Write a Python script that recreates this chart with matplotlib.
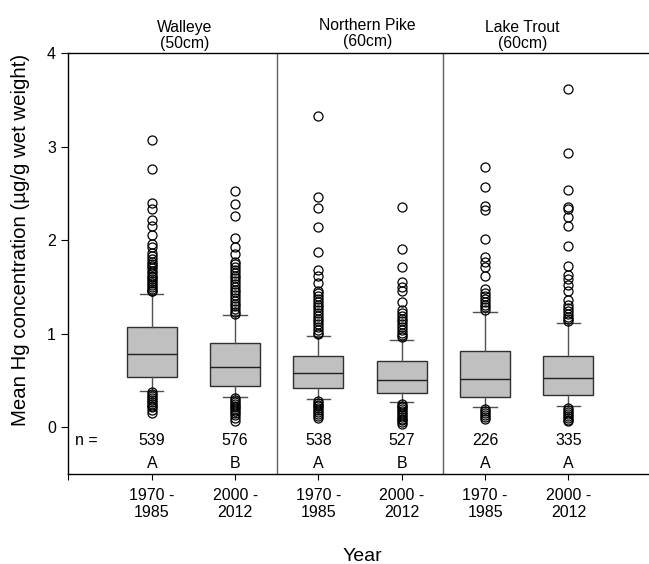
import matplotlib
matplotlib.use("Agg")
import matplotlib.pyplot as plt

plt.rcParams['font.family'] = ['Liberation Sans', 'DejaVu Sans']

# Groups and periods
species = ["Walleye\n(50cm)", "Northern Pike\n(60cm)", "Lake Trout\n(60cm)"]
periods = ["1970 -\n1985", "2000 -\n2012", "1970 -\n1985", "2000 -\n2012", "1970 -\n1985", "2000 -\n2012"]
n_counts = [539, 576, 538, 527, 226, 335]
letters = ["A", "B", "A", "B", "A", "A"]

# Box statistics (ug/g wet weight)
q1 = [0.54, 0.44, 0.42, 0.36, 0.32, 0.34]
median = [0.78, 0.645, 0.58, 0.50, 0.51, 0.52]
q3 = [1.07, 0.90, 0.76, 0.71, 0.81, 0.76]
whisker_low = [0.385, 0.325, 0.295, 0.27, 0.21, 0.22]
whisker_high = [1.42, 1.20, 0.97, 0.93, 1.23, 1.11]

# Outlying observations
fliers_walleye_1970 = [3.07, 2.76, 2.40, 2.33, 2.21, 2.15, 2.05, 1.96, 1.92, 1.86, 1.83, 1.80,
                       1.77, 1.74, 1.72, 1.70, 1.67, 1.65, 1.62, 1.60, 1.58, 1.56, 1.54, 1.52,
                       1.50, 1.48, 1.46, 1.45,
                       0.37, 0.35, 0.33, 0.31, 0.29, 0.27, 0.25, 0.23, 0.21, 0.18, 0.15]
fliers_walleye_2000 = [2.52, 2.38, 2.26, 2.02, 1.93, 1.85, 1.77, 1.74, 1.71, 1.68, 1.65, 1.62,
                       1.59, 1.56, 1.53, 1.50, 1.47, 1.44, 1.41, 1.38, 1.35, 1.32, 1.29, 1.26,
                       1.23, 1.21,
                       0.31, 0.29, 0.27, 0.25, 0.23, 0.21, 0.19, 0.17, 0.15, 0.13, 0.10, 0.06]
fliers_pike_1970 = [3.33, 2.46, 2.34, 2.14, 1.87, 1.68, 1.61, 1.54, 1.45, 1.43, 1.40, 1.37,
                    1.34, 1.31, 1.28, 1.25, 1.22, 1.19, 1.16, 1.13, 1.10, 1.07, 1.04, 1.01, 0.99,
                    0.28, 0.26, 0.24, 0.22, 0.20, 0.18, 0.16, 0.14, 0.12, 0.10]
fliers_pike_2000 = [2.35, 1.90, 1.71, 1.55, 1.50, 1.45, 1.34, 1.25, 1.22, 1.19, 1.16, 1.13,
                    1.10, 1.07, 1.04, 1.01, 0.98, 0.96,
                    0.25, 0.23, 0.21, 0.19, 0.17, 0.15, 0.13, 0.11, 0.09, 0.07, 0.05, 0.03]
fliers_trout_1970 = [2.78, 2.57, 2.36, 2.32, 2.01, 1.82, 1.77, 1.71, 1.61, 1.48, 1.43, 1.40,
                     1.37, 1.34, 1.31, 1.28, 1.25,
                     0.19, 0.17, 0.15, 0.13, 0.11, 0.09]
fliers_trout_2000 = [3.61, 2.93, 2.54, 2.35, 2.33, 2.25, 2.15, 1.94, 1.72, 1.63, 1.58, 1.52,
                     1.45, 1.36, 1.30, 1.27, 1.24, 1.21, 1.18, 1.15, 1.13,
                     0.20, 0.18, 0.16, 0.14, 0.12, 0.10, 0.08, 0.06]
fliers = [fliers_walleye_1970, fliers_walleye_2000, fliers_pike_1970,
          fliers_pike_2000, fliers_trout_1970, fliers_trout_2000]

positions = list(range(1, len(periods) + 1))

stats = []
for i in range(len(periods)):
    stats.append(dict(med=median[i], q1=q1[i], q3=q3[i],
                      whislo=whisker_low[i], whishi=whisker_high[i],
                      fliers=fliers[i]))

fig = plt.figure(figsize=(6.49, 5.64), dpi=100)
# the frame runs to the right edge of the figure
ax = fig.add_axes([0.1055, 0.16, 0.8945, 0.746])

ax.bxp(stats, positions=positions, widths=0.6, patch_artist=True,
       boxprops=dict(facecolor="#c0c0c0", edgecolor="#303030", linewidth=1.0),
       medianprops=dict(color="#202020", linewidth=1.0),
       whiskerprops=dict(color="#505050", linewidth=1.0),
       capprops=dict(color="#505050", linewidth=1.0),
       capwidths=0.28,
       flierprops=dict(marker="o", markerfacecolor="none", markeredgecolor="black",
                       markersize=6.5, markeredgewidth=0.9, linestyle="none"))

# Dividers between species
for xd in (2.5, 4.5):
    ax.axvline(xd, color="#606060", linewidth=1.0)

small = 11.5

# Ticks
ax.set_yticks([0, 1, 2, 3, 4])
ax.set_yticklabels(["0", "1", "2", "3", "4"])
ax.tick_params(axis="y", direction="out", length=5, width=0.8, labelsize=small, pad=4)
ax.set_xticks([0] + positions)
ax.set_xticklabels([""] + periods)
ax.tick_params(axis="x", direction="out", length=4, width=0.8, labelsize=small, pad=6)
ax.spines["right"].set_visible(False)
for s in ("left", "bottom", "top"):
    ax.spines[s].set_linewidth(1.0)

ax.set_xlim(0, 6.966)
ax.set_ylim(-0.5, 4)

# Sample sizes and significance letters
ax.text(0.22, -0.14, "n =", ha="center", va="center", fontsize=small)
for x, n, let in zip(positions, n_counts, letters):
    ax.text(x, -0.14, str(n), ha="center", va="center", fontsize=small)
    ax.text(x, -0.385, let, ha="center", va="center", fontsize=small)

# Species headings
for xh, yh, name in zip([1.39, 3.59, 5.45], [4.19, 4.21, 4.19], species):
    ax.text(xh, yh, name, ha="center", va="center", fontsize=11.3,
            linespacing=1.1, clip_on=False)

ax.set_ylabel("Mean Hg concentration (\u00b5g/g wet weight)", fontsize=14.7)
ax.yaxis.set_label_coords(-0.066, 0.5556)
ax.set_xlabel("Year", fontsize=14)
ax.xaxis.label.set_va("center")
ax.xaxis.set_label_coords(0.507, -0.197)

fig.savefig("out.png", dpi=100)
